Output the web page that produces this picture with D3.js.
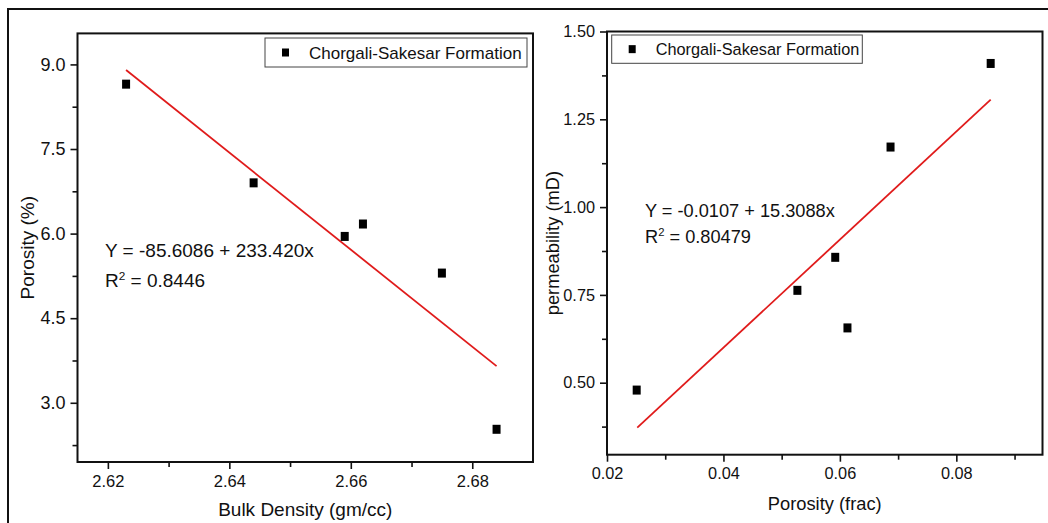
<!DOCTYPE html>
<html>
<head>
<meta charset="utf-8">
<script src="https://cdn.jsdelivr.net/npm/d3@7"></script>
<style>
  body { margin: 0; background: #fff; }
  svg { display: block; font-family: "Liberation Sans", Arial, sans-serif; }
</style>
</head>
<body>
<svg id="chart" width="1048" height="523"></svg>
<script>
// left panel: bulk density vs porosity
const bulkDensity = [2.623, 2.644, 2.659, 2.662, 2.675, 2.684];
const porosityPct = [8.65, 6.90, 5.95, 6.17, 5.30, 2.53];
const fitLeftX = [2.623, 2.684];
const fitLeftY = [8.90, 3.65];
const leftXTicks = [2.62, 2.64, 2.66, 2.68];
const leftXMinor = [2.63, 2.65, 2.67];
const leftYTicks = [3.0, 4.5, 6.0, 7.5, 9.0];
const leftYMinor = [2.25, 3.75, 5.25, 6.75, 8.25];

// right panel: porosity vs permeability
const porosityFrac = [0.0251, 0.0527, 0.0592, 0.0613, 0.0687, 0.0859];
const permeability = [0.479, 0.763, 0.857, 0.656, 1.171, 1.409];
const fitRightX = [0.0252, 0.0859];
const fitRightY = [0.372, 1.306];
const rightXTicks = [0.02, 0.04, 0.06, 0.08];
const rightXMinor = [0.03, 0.05, 0.07, 0.09];
const rightYTicks = [0.50, 0.75, 1.00, 1.25, 1.50];
const rightYMinor = [0.375, 0.625, 0.875, 1.125, 1.375];

const seriesName = "Chorgali-Sakesar Formation";

const svg = d3.select("#chart");

// outer frame (only top and left edges show in the crop)
svg.append("rect")
    .attr("x", 8).attr("y", 9)
    .attr("width", 1100).attr("height", 600)
    .attr("fill", "none").attr("stroke", "#111").attr("stroke-width", 2);

function drawPanel(p) {
    const x = d3.scaleLinear().domain(p.xDomain).range([p.left, p.right]);
    const y = d3.scaleLinear().domain(p.yDomain).range([p.bottom, p.top]);
    const g = svg.append("g");

    // minor ticks
    g.append("g")
        .attr("transform", `translate(0,${p.bottom})`)
        .call(d3.axisBottom(x).tickValues(p.xMinor).tickSize(5).tickFormat(""));
    g.append("g")
        .attr("transform", `translate(${p.left},0)`)
        .call(d3.axisLeft(y).tickValues(p.yMinor).tickSize(5).tickFormat(""));

    // major ticks
    const xa = g.append("g")
        .attr("transform", `translate(0,${p.bottom})`)
        .call(d3.axisBottom(x).tickValues(p.xTicks).tickSize(7).tickPadding(p.xPad)
            .tickFormat(d3.format(".2f")));
    const ya = g.append("g")
        .attr("transform", `translate(${p.left},0)`)
        .call(d3.axisLeft(y).tickValues(p.yTicks).tickSize(7).tickPadding(5)
            .tickFormat(d3.format(p.yFormat)));

    g.selectAll(".domain").remove();
    g.selectAll(".tick line").attr("stroke", "#111").attr("stroke-width", 1.6);
    xa.selectAll("text").attr("font-size", p.xFont).attr("fill", "#111")
        .attr("font-family", "Liberation Sans, Arial, sans-serif");
    ya.selectAll("text").attr("font-size", p.yFont).attr("fill", "#111")
        .attr("font-family", "Liberation Sans, Arial, sans-serif");

    // frame
    g.append("rect")
        .attr("x", p.left).attr("y", p.top)
        .attr("width", p.right - p.left).attr("height", p.bottom - p.top)
        .attr("fill", "none").attr("stroke", "#111").attr("stroke-width", 2);

    // fit line
    g.append("line")
        .attr("x1", x(p.fitX[0])).attr("y1", y(p.fitY[0]))
        .attr("x2", x(p.fitX[1])).attr("y2", y(p.fitY[1]))
        .attr("stroke", "#e01b1b").attr("stroke-width", 1.8);

    // points
    g.selectAll("rect.pt")
        .data(p.xs.map((v, i) => [v, p.ys[i]]))
        .join("rect")
        .attr("class", "pt")
        .attr("x", d => x(d[0]) - 4).attr("y", d => y(d[1]) - 4.5)
        .attr("width", 8).attr("height", 9)
        .attr("fill", "#000");

    // legend
    const lg = g.append("g");
    lg.append("rect")
        .attr("x", p.legend[0]).attr("y", p.legend[1])
        .attr("width", p.legend[2]).attr("height", p.legend[3])
        .attr("fill", "#fff").attr("stroke", "#444").attr("stroke-width", 1);
    lg.append("rect")
        .attr("x", p.legend[0] + 17).attr("y", p.legend[1] + p.legend[3] / 2 - 4)
        .attr("width", 7).attr("height", 8).attr("fill", "#000");
    lg.append("text")
        .attr("x", p.legend[0] + 44).attr("y", p.legend[1] + p.legend[3] / 2 + 6)
        .attr("font-size", p.legendFont).attr("fill", "#111")
        .text(seriesName);

    // axis titles
    g.append("text")
        .attr("x", (p.left + p.right) / 2).attr("y", p.xTitleY)
        .attr("text-anchor", "middle").attr("font-size", p.titleFont).attr("fill", "#111")
        .text(p.xTitle);
    g.append("text")
        .attr("transform", `translate(${p.yTitleX},${(p.top + p.bottom) / 2}) rotate(-90)`)
        .attr("text-anchor", "middle").attr("font-size", p.titleFont).attr("fill", "#111")
        .text(p.yTitle);

    // equation
    const eq = g.append("text")
        .attr("x", p.eq[0]).attr("y", p.eq[1])
        .attr("font-size", p.eqFont).attr("fill", "#111");
    eq.text(p.eqLine);
    const r2 = g.append("text")
        .attr("x", p.eq[0]).attr("y", p.eq[1] + p.eqGap)
        .attr("font-size", p.eqFont).attr("fill", "#111");
    r2.append("tspan").text("R");
    r2.append("tspan").attr("dy", -7).attr("font-size", p.eqFont * 0.62).text("2");
    r2.append("tspan").attr("dy", 7).text(" = " + p.r2);
}

drawPanel({
    left: 77.5, right: 533, top: 33.4, bottom: 462,
    xDomain: [2.615, 2.69], yDomain: [1.95, 9.55],
    xTicks: leftXTicks, xMinor: leftXMinor, yTicks: leftYTicks, yMinor: leftYMinor,
    yFormat: ".1f", xPad: 6, xFont: 16.5, yFont: 18,
    xs: bulkDensity, ys: porosityPct, fitX: fitLeftX, fitY: fitLeftY,
    legend: [265, 38, 262, 29], legendFont: 17,
    xTitle: "Bulk Density (gm/cc)", yTitle: "Porosity (%)",
    xTitleY: 516, yTitleX: 34, titleFont: 19,
    eq: [105, 257], eqGap: 29.5, eqFont: 19,
    eqLine: "Y = -85.6086 + 233.420x", r2: "0.8446"
});

drawPanel({
    left: 607, right: 1042.5, top: 31.5, bottom: 454.7,
    xDomain: [0.02, 0.0948], yDomain: [0.295, 1.5],
    xTicks: rightXTicks, xMinor: rightXMinor, yTicks: rightYTicks, yMinor: rightYMinor,
    yFormat: ".2f", xPad: 6, xFont: 16.3, yFont: 16.3,
    xs: porosityFrac, ys: permeability, fitX: fitRightX, fitY: fitRightY,
    legend: [611.7, 35, 250.6, 28.3], legendFont: 16.3,
    xTitle: "Porosity (frac)", yTitle: "permeability (mD)",
    xTitleY: 509.5, yTitleX: 559, titleFont: 18.3,
    eq: [645, 216.7], eqGap: 26.7, eqFont: 18.2,
    eqLine: "Y = -0.0107 + 15.3088x", r2: "0.80479"
});
</script>
</body>
</html>
